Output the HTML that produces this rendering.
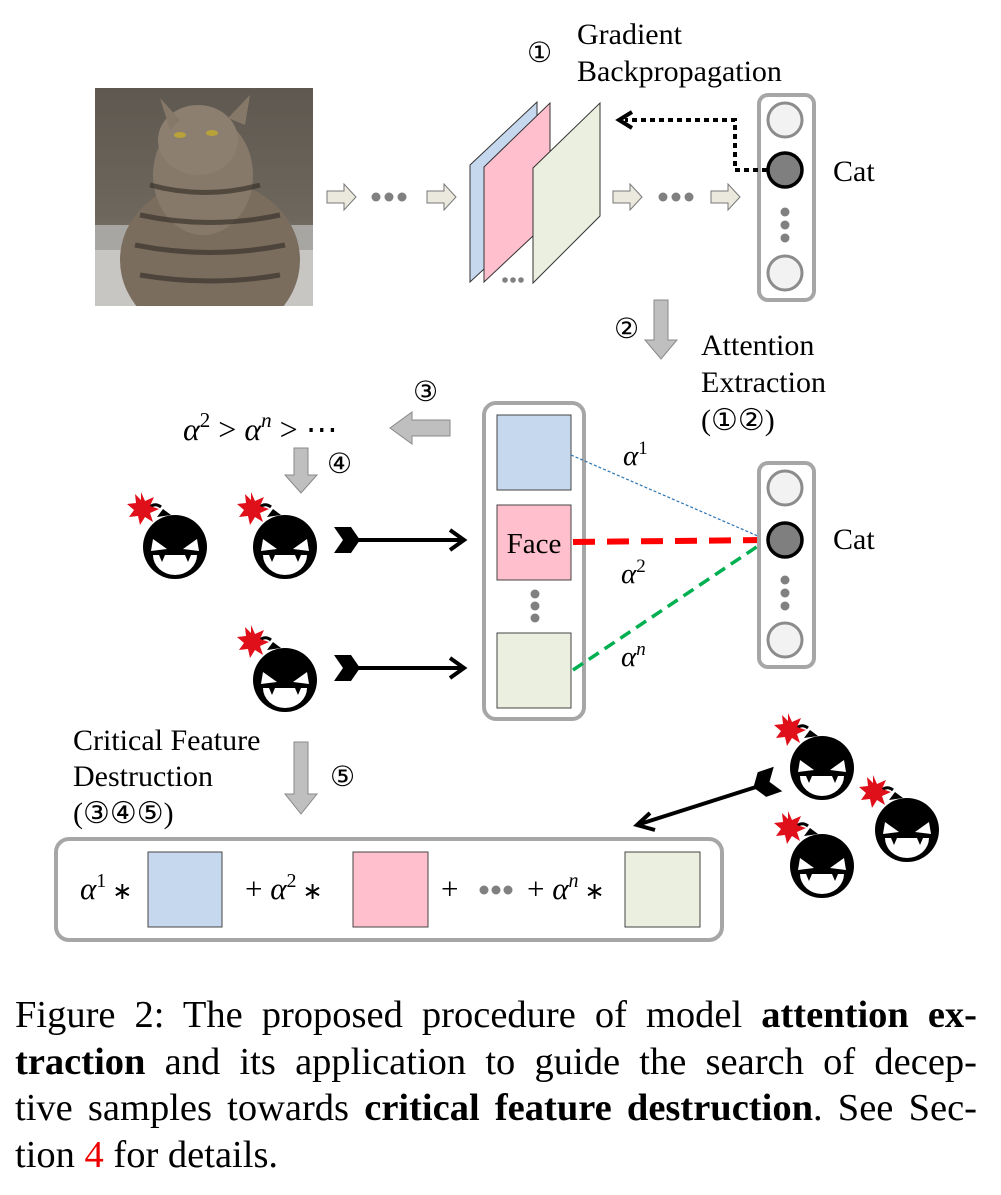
<!DOCTYPE html>
<html><head><meta charset="utf-8"><style>
html,body{margin:0;padding:0;background:#fff;width:1001px;height:1195px;overflow:hidden}
svg{display:block}
.s{font-family:"Liberation Serif","DejaVu Serif",serif;fill:#000}
.m{font-family:"Liberation Serif",serif;font-style:italic;fill:#000}
.cap{position:absolute;left:15px;top:992px;width:962px;font-family:"Liberation Serif",serif;font-size:38.5px;line-height:46.5px;color:#000}
.cap div{text-align:justify;text-align-last:justify;white-space:nowrap}
.cap div.last{text-align-last:left}
</style></head><body>
<svg width="1001" height="1195" viewBox="0 0 1001 1195">
<defs>
<g id="bomb">
 <path d="M-28,-36 q6,-10 14,-4" fill="none" stroke="#000" stroke-width="3"/>
 <polygon fill="#e0101a" points="-34,-55 -30,-46 -21,-50 -25,-41 -16,-38 -25,-34 -22,-25 -30,-30 -35,-22 -37,-31 -46,-30 -41,-37 -48,-43 -39,-44 -40,-53 -34,-47"/>
 <path d="M-18,-30 l6,-8 l8,6z" fill="#000"/>
 <circle cx="0" cy="0" r="32" fill="#000"/>
 <path d="M-22,-8 l14,10 l-16,2z M22,-8 l-14,10 l16,2z" fill="#fff"/>
 <path d="M-22,8 h44 a22,20 0 0 1 -44,0z" fill="#fff"/>
 <path d="M-16,8 l3,7 l3,-7z M16,8 l-3,7 l-3,-7z" fill="#000"/>
</g>
<g id="dart">
 <path d="M0,-13 h17 l9,13 l-9,13 h-17 l9,-13z" fill="#000"/>
</g>
<linearGradient id="cat" x1="0" y1="0" x2="0" y2="1"><stop offset="0" stop-color="#5e5850"/><stop offset="0.6" stop-color="#6e675d"/><stop offset="1" stop-color="#a9a49c"/></linearGradient>
<clipPath id="pc"><rect x="95" y="88" width="218" height="218"/></clipPath>
</defs>

<g clip-path="url(#pc)">
<rect x="95" y="88" width="218" height="218" fill="url(#cat)"/>
<rect x="95" y="225" width="218" height="30" fill="#a8a6a2"/>
<rect x="95" y="250" width="218" height="56" fill="#c8c6c2"/>
<ellipse cx="210" cy="260" rx="90" ry="80" fill="#7a6d5e"/>
<ellipse cx="203" cy="175" rx="50" ry="60" fill="#86796a"/>
<ellipse cx="198" cy="140" rx="40" ry="35" fill="#8c7f70"/>
<polygon points="160,98 180,120 170,130" fill="#857869"/>
<polygon points="250,95 228,118 245,125" fill="#857869"/>
<ellipse cx="180" cy="135" rx="6" ry="3" fill="#b9a23a"/>
<ellipse cx="212" cy="133" rx="6" ry="3" fill="#b9a23a"/>
<path d="M150,185 q55,15 110,0 M140,215 q70,15 140,0 M135,245 q75,15 150,0 M140,275 q70,12 140,0" stroke="#3a332c" stroke-width="5" fill="none" opacity="0.7"/>
</g>

<g fill="#ebe9dd" stroke="#777" stroke-width="1">
<path d="M327,191 h17 v-7 l12,13 l-12,13 v-7 h-17z"/>
<path d="M427,191 h17 v-7 l12,13 l-12,13 v-7 h-17z"/>
<path d="M613,191 h17 v-7 l12,13 l-12,13 v-7 h-17z"/>
<path d="M711,191 h17 v-7 l12,13 l-12,13 v-7 h-17z"/>
</g>
<g fill="#808080">
<circle cx="376" cy="197" r="4.5"/><circle cx="389" cy="197" r="4.5"/><circle cx="402" cy="197" r="4.5"/>
<circle cx="663" cy="197" r="4.5"/><circle cx="676" cy="197" r="4.5"/><circle cx="689" cy="197" r="4.5"/>
<circle cx="505" cy="280" r="2.8"/><circle cx="513" cy="280" r="2.8"/><circle cx="521" cy="280" r="2.8"/>
</g>

<polygon points="470,165 537,102 537,220 470,282" fill="#c6d8ee" stroke="#333" stroke-width="1"/>
<polygon points="484,167 550,103 550,220 484,282" fill="#ffbfcc" stroke="#333" stroke-width="1"/>
<polygon points="533,168 600,103 600,216 533,283" fill="#ebefdf" stroke="#333" stroke-width="1"/>

<rect x="759" y="95" width="55" height="205" rx="9" fill="#fff" stroke="#a6a6a6" stroke-width="4"/>
<circle cx="785" cy="120" r="17" fill="#f2f2f2" stroke="#8c8c8c" stroke-width="3"/>
<circle cx="785" cy="170" r="17" fill="#7f7f7f" stroke="#000" stroke-width="3.5"/>
<circle cx="785" cy="273" r="17" fill="#f2f2f2" stroke="#8c8c8c" stroke-width="3"/>
<g fill="#808080"><circle cx="785" cy="212" r="4.5"/><circle cx="785" cy="225" r="4.5"/><circle cx="785" cy="238" r="4.5"/></g>
<path d="M767,170 H735 V120 H625" fill="none" stroke="#000" stroke-width="4" stroke-dasharray="5,4"/>
<path d="M632,112 L619,120 L632,128" fill="none" stroke="#000" stroke-width="4"/>
<text x="833" y="181" class="s" font-size="30">Cat</text>
<text x="527" y="62" class="s" font-size="28">①</text>
<text x="577" y="44" class="s" font-size="30">Gradient</text>
<text x="577" y="81" class="s" font-size="30">Backpropagation</text>

<g fill="#bfbfbf" stroke="#888" stroke-width="1">
<path d="M654,300 h14 v40 h9 l-16,19 l-16,-19 h9z"/>
<path d="M450,420 v16 h-38 v8 l-22,-16 l22,-16 v8z"/>
<path d="M294,448 h14 v27 h9 l-16,18 l-16,-18 h9z"/>
<path d="M294,742 h14 v52 h9 l-16,20 l-16,-20 h9z"/>
</g>
<text x="614" y="338" class="s" font-size="28">②</text>
<text x="701" y="355" class="s" font-size="30">Attention</text>
<text x="701" y="392" class="s" font-size="30">Extraction</text>
<text x="701" y="430" class="s" font-size="30">(①②)</text>
<text x="413" y="401" class="s" font-size="28">③</text>
<text x="327" y="473" class="s" font-size="28">④</text>
<text x="183" y="440" class="m" font-size="32">α<tspan font-style="normal" dy="-13" font-size="21">2</tspan><tspan dy="13" font-style="normal"> &gt; </tspan>α<tspan dy="-13" font-size="21">n</tspan><tspan dy="13" font-style="normal"> &gt; ⋯</tspan></text>

<rect x="484" y="403" width="100" height="316" rx="12" fill="#fff" stroke="#a6a6a6" stroke-width="4"/>
<rect x="497" y="415" width="74" height="75" fill="#c6d8ee" stroke="#444" stroke-width="1"/>
<rect x="497" y="505" width="74" height="75" fill="#ffbfcc" stroke="#444" stroke-width="1"/>
<rect x="497" y="633" width="74" height="75" fill="#ebefdf" stroke="#444" stroke-width="1"/>
<text x="534" y="553" class="s" font-size="29" text-anchor="middle">Face</text>
<g fill="#808080"><circle cx="535" cy="594" r="4.5"/><circle cx="535" cy="606" r="4.5"/><circle cx="535" cy="618" r="4.5"/></g>

<line x1="571" y1="455" x2="767" y2="540" stroke="#2e75b6" stroke-width="1.2" stroke-dasharray="3,2"/>
<line x1="573" y1="542" x2="767" y2="540" stroke="#ff0000" stroke-width="6" stroke-dasharray="22,12"/>
<line x1="573" y1="670" x2="767" y2="540" stroke="#00b050" stroke-width="3.5" stroke-dasharray="12,7"/>
<text x="623" y="465" class="m" font-size="29">α<tspan dy="-11" font-size="19" font-style="normal">1</tspan></text>
<text x="621" y="583" class="m" font-size="29">α<tspan dy="-11" font-size="19" font-style="normal">2</tspan></text>
<text x="621" y="666" class="m" font-size="29">α<tspan dy="-11" font-size="19">n</tspan></text>

<rect x="759" y="463" width="55" height="204" rx="9" fill="#fff" stroke="#a6a6a6" stroke-width="4"/>
<circle cx="785" cy="488" r="17" fill="#f2f2f2" stroke="#8c8c8c" stroke-width="3"/>
<circle cx="785" cy="540" r="17" fill="#7f7f7f" stroke="#000" stroke-width="3.5"/>
<circle cx="785" cy="640" r="17" fill="#f2f2f2" stroke="#8c8c8c" stroke-width="3"/>
<g fill="#808080"><circle cx="785" cy="580" r="4.5"/><circle cx="785" cy="593" r="4.5"/><circle cx="785" cy="606" r="4.5"/></g>
<text x="833" y="549" class="s" font-size="30">Cat</text>

<use href="#bomb" x="175" y="547"/>
<use href="#bomb" x="285" y="547"/>
<use href="#bomb" x="285" y="680"/>
<use href="#bomb" x="822" y="768"/>
<use href="#bomb" x="907" y="830"/>
<use href="#bomb" x="822" y="866"/>

<use href="#dart" x="334" y="540"/>
<line x1="355" y1="540" x2="462" y2="540" stroke="#000" stroke-width="4"/>
<path d="M450,530 L464,540 L450,550" fill="none" stroke="#000" stroke-width="4"/>
<use href="#dart" x="334" y="668"/>
<line x1="355" y1="668" x2="462" y2="668" stroke="#000" stroke-width="4"/>
<path d="M450,658 L464,668 L450,678" fill="none" stroke="#000" stroke-width="4"/>
<g transform="translate(778,779) rotate(161)"><use href="#dart" x="0" y="0"/></g>
<line x1="756" y1="787" x2="640" y2="824" stroke="#000" stroke-width="4"/>
<path d="M650,813 L637,825 L655,830" fill="none" stroke="#000" stroke-width="4"/>

<text x="73" y="750" class="s" font-size="30">Critical Feature</text>
<text x="73" y="786" class="s" font-size="30">Destruction</text>
<text x="73" y="823" class="s" font-size="30">(③④⑤)</text>
<text x="330" y="786" class="s" font-size="28">⑤</text>

<rect x="56" y="839" width="666" height="101" rx="13" fill="#fff" stroke="#a6a6a6" stroke-width="4"/>
<rect x="148" y="852" width="74" height="75" fill="#c6d8ee" stroke="#444" stroke-width="1"/>
<rect x="353" y="852" width="75" height="75" fill="#ffbfcc" stroke="#444" stroke-width="1"/>
<rect x="625" y="852" width="75" height="75" fill="#ebefdf" stroke="#444" stroke-width="1"/>
<text x="80" y="899" class="m" font-size="31">α<tspan dy="-12" font-size="20" font-style="normal">1</tspan><tspan dy="12" font-style="normal" font-size="24"> ∗</tspan></text>
<text x="245" y="899" class="m" font-size="31"><tspan font-style="normal">+ </tspan>α<tspan dy="-12" font-size="20" font-style="normal">2</tspan><tspan dy="12" font-style="normal" font-size="24"> ∗</tspan></text>
<text x="441" y="899" class="s" font-size="31">+</text>
<g fill="#808080"><circle cx="484" cy="890" r="4.5"/><circle cx="496" cy="890" r="4.5"/><circle cx="508" cy="890" r="4.5"/></g>
<text x="527" y="899" class="m" font-size="31"><tspan font-style="normal">+ </tspan>α<tspan dy="-12" font-size="20">n</tspan><tspan dy="12" font-style="normal" font-size="24"> ∗</tspan></text>
</svg>
<div class="cap">
<div>Figure 2: The proposed procedure of model <b>attention ex-</b></div>
<div><b>traction</b> and its application to guide the search of decep-</div>
<div>tive samples towards <b>critical feature destruction</b>. See Sec-</div>
<div class="last">tion <span style="color:#e00">4</span> for details.</div>
</div>
</body></html>
